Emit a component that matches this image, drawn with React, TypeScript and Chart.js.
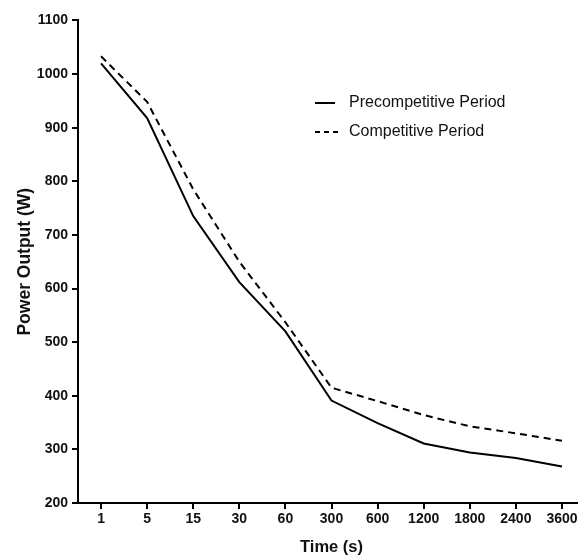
import React, { useEffect, useRef } from "react";
import { Chart, registerables } from "chart.js";

Chart.register(...registerables);

const timeLabels = ["1", "5", "15", "30", "60", "300", "600", "1200", "1800", "2400", "3600"];
const precompetitive = [1020, 918, 735, 612, 520, 391, 349, 311, 294, 284, 268];
const competitive = [1033, 948, 785, 650, 537, 415, 390, 364, 343, 330, 316];
const seriesNames = ["Precompetitive Period", "Competitive Period"];
const yMin = 200;
const yMax = 1100;
const yStep = 100;

const FONT = "'Liberation Sans', Arial, Helvetica, sans-serif";

const legendPlugin = {
  id: "customLegend",
  afterDraw(chart: any) {
    const ctx = chart.ctx;
    const items = [
      { y: 95, dash: [] as number[], x1: 307, x2: 327 },
      { y: 124, dash: [5, 4], x1: 307, x2: 331 },
    ];
    ctx.save();
    chart.data.datasets.forEach((ds: any, i: number) => {
      const it = items[i];
      ctx.beginPath();
      ctx.setLineDash(it.dash);
      ctx.strokeStyle = "#000";
      ctx.lineWidth = 2;
      ctx.moveTo(it.x1, it.y);
      ctx.lineTo(it.x2, it.y);
      ctx.stroke();
      ctx.setLineDash([]);
      ctx.fillStyle = "#111";
      ctx.font = `16px ${FONT}`;
      ctx.textBaseline = "middle";
      ctx.textAlign = "left";
      ctx.fillText(ds.label, 341, it.y);
    });
    ctx.restore();
  },
};

export default function App() {
  const ref = useRef<HTMLCanvasElement | null>(null);

  useEffect(() => {
    if (!ref.current) return;
    const chart = new Chart(ref.current, {
      type: "line",
      data: {
        labels: timeLabels,
        datasets: [
          {
            label: seriesNames[0],
            data: precompetitive,
            borderColor: "#000",
            borderWidth: 2,
            pointRadius: 0,
            tension: 0,
            fill: false,
          },
          {
            label: seriesNames[1],
            data: competitive,
            borderColor: "#000",
            borderWidth: 2,
            borderDash: [7, 5],
            pointRadius: 0,
            tension: 0,
            fill: false,
          },
        ],
      },
      options: {
        responsive: false,
        animation: false,
        layout: { padding: { left: 0, top: 8, right: 23, bottom: 0 } },
        plugins: {
          legend: { display: false },
          tooltip: { enabled: false },
        },
        scales: {
          x: {
            type: "category",
            offset: true,
            afterFit: (s: any) => {
              s.height = 54;
            },
            border: { display: true, color: "#000", width: 2 },
            grid: {
              display: true,
              drawOnChartArea: false,
              drawTicks: true,
              tickLength: 6,
              color: "#000",
              lineWidth: 2,
              offset: false,
            },
            ticks: {
              color: "#111",
              padding: 2,
              maxRotation: 0,
              autoSkip: false,
              font: { family: FONT, size: 14, weight: "bold" },
            },
            title: {
              display: true,
              text: "Time (s)",
              color: "#111",
              padding: { top: 0, bottom: 0 },
              font: { family: FONT, size: 16.5, weight: "bold" },
            },
          },
          y: {
            min: yMin,
            max: yMax,
            afterFit: (s: any) => {
              s.width = 70;
            },
            border: { display: true, color: "#000", width: 2 },
            grid: {
              display: true,
              drawOnChartArea: false,
              drawTicks: true,
              tickLength: 6,
              color: "#000",
              lineWidth: 2,
            },
            ticks: {
              stepSize: yStep,
              color: "#111",
              padding: 4,
              callback: (v: any) => String(v),
              font: { family: FONT, size: 14, weight: "bold" },
            },
            title: {
              display: true,
              text: "Power Output (W)",
              color: "#111",
              padding: { top: 6.5, bottom: 0 },
              font: { family: FONT, size: 17.5, weight: "bold" },
            },
          },
        },
      },
      plugins: [legendPlugin],
    });
    return () => chart.destroy();
  }, []);

  return (
    <>
      <style>{`html{overflow:hidden;}`}</style>
      <div style={{ position: "fixed", left: 8, top: 8, width: 600, height: 549 }}>
        <canvas ref={ref} width={600} height={549} style={{ display: "block" }} />
      </div>
    </>
  );
}
